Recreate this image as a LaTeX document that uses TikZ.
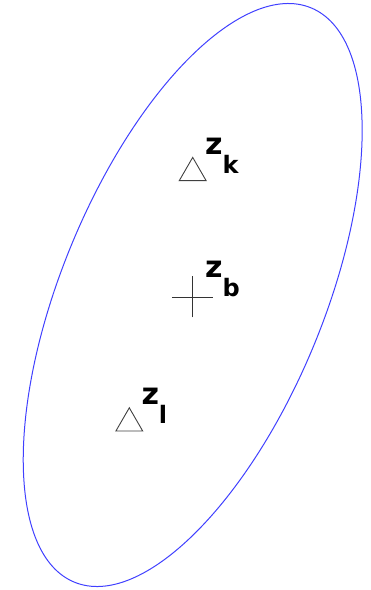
\documentclass[tikz,border=0pt]{standalone}
\usepackage{fontspec}
\setsansfont{DejaVu Sans}
\usetikzlibrary{shapes.geometric}
\newcommand{\zsub}[1]{z\raisebox{-19pt}{\fontsize{24}{24}\selectfont #1}}

\begin{document}
\begin{tikzpicture}[x=1pt,y=1pt,every node/.style={font=\sffamily\bfseries\fontsize{30}{34}\selectfont}]
                \useasboundingbox (0,0) rectangle (371,590);

                % Elipsin merkezi ve eğik elips
                \coordinate (ctr) at (192.7,295);
                \draw[blue!75, line width=1pt, rotate around={67.6:(ctr)}] (ctr) ellipse [x radius=310.6, y radius=131.2];

                % Üçgen işaretler (z_k ve z_l)
                \node[draw=black!75, line width=0.9pt, regular polygon, regular polygon sides=3, minimum size=31pt, inner sep=0pt] (zk) at (192.7,417.1) {};
                \node[draw=black!75, line width=0.9pt, regular polygon, regular polygon sides=3, minimum size=31pt, inner sep=0pt] (zl) at (129.3,166.7) {};

                % Artı işareti (z_b)
                \coordinate (zb) at (192.3,293);
                \draw[black!80, line width=0.9pt] (zb) +(-20.5,0) -- +(20.5,0);
                \draw[black!80, line width=0.9pt] (zb) +(0,-20.5) -- +(0,20.5);

                % Etiketler
                \node[anchor=base west, inner sep=0pt] (lk) at (205,435.5) {\zsub{k}};
                \node[anchor=base west, inner sep=0pt] (lb) at (205,312) {\zsub{b}};
                \node[anchor=base west, inner sep=0pt] (ll) at (141.3,185) {\zsub{l}};
            \end{tikzpicture}
\end{document}
